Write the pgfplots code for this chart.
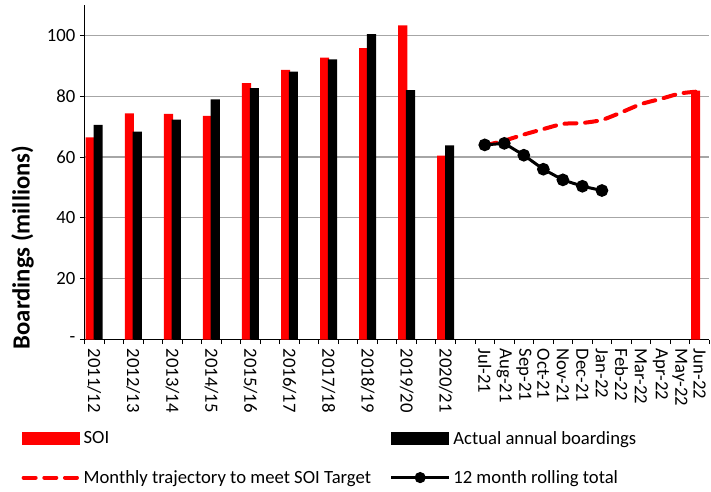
\documentclass[border=0pt]{standalone}
\usepackage{fontspec}
\setmainfont{Carlito}
\usepackage{pgfplots}
\pgfplotsset{compat=1.18}

\begin{document}
\begin{tikzpicture}
\begin{axis}[
    scale only axis,
    width=468.6pt, height=250.9pt,
    xmin=0, xmax=32,
    ymin=0, ymax=110,
    clip=false,
    axis lines=left,
    axis line style={-, line width=0.9pt, black},
    tick align=outside,
    major tick length=3.4pt,
    tick style={black, line width=0.75pt},
    xtick={0,...,32},
    x tick label as interval,
    xticklabels={2011/12,,2012/13,,2013/14,,2014/15,,2015/16,,2016/17,,2017/18,,2018/19,,2019/20,,2020/21,,
        Jul-21,Aug-21,Sep-21,Oct-21,Nov-21,Dec-21,Jan-22,Feb-22,Mar-22,Apr-22,May-22,Jun-22},
    xticklabel style={rotate=-90, anchor=west},
    ytick={0,20,...,100},
    yticklabels={{-\hspace{0.4em}},20,40,60,80,100},
    tick label style={font=\fontsize{14}{16}\selectfont},
    ymajorgrids,
    major grid style={line width=0.9pt, gray!70},
    ylabel={Boardings (millions)},
    ylabel style={at={(axis description cs:-0.099,0.275)}, anchor=center,
        font=\fontsize{18.5}{22}\selectfont\bfseries},
    legend columns=2,
    legend cell align=left,
    legend style={at={(axis description cs:-0.101,-0.265)}, anchor=north west,
        draw=none, fill=none, inner sep=0pt, row sep=14pt,
        font=\fontsize{14}{16}\selectfont,
        /tikz/every even column/.append style={column sep=12pt}},
]

% SOI (annual target, plus Jun-22 target)
\addplot[ybar, bar width=0.47, bar shift=-0.2, fill=red, draw=none,
    legend image code/.code={\fill[red] (0pt,-4.9pt) rectangle (43.5pt,4.9pt);}]
    coordinates {(0.5,66.5) (2.5,74.4) (4.5,74.2) (6.5,73.5) (8.5,84.3)
        (10.5,88.7) (12.5,92.7) (14.5,95.8) (16.5,103.3) (18.5,60.5) (31.5,81.8)};
\addlegendentry{SOI}

% actual annual boardings
\addplot[ybar, bar width=0.47, bar shift=0.2, fill=black, draw=none,
    legend image code/.code={\fill[black] (0pt,-4.9pt) rectangle (43.5pt,4.9pt);}]
    coordinates {(0.5,70.6) (2.5,68.4) (4.5,72.3) (6.5,79.0) (8.5,82.7)
        (10.5,88.1) (12.5,92.1) (14.5,100.4) (16.5,82.0) (18.5,63.8)};
\addlegendentry{Actual annual boardings}

% monthly trajectory
\addplot[red, line width=3pt, dash pattern=on 9pt off 6.5pt, line cap=round,
    smooth, tension=0.4,
    legend image code/.code={\draw[red, line width=3pt, dash pattern=on 9pt off 6.5pt,
        line cap=round] (1.5pt,0pt) -- (43pt,0pt);}]
    coordinates {(20.5,63.8) (21.5,65.4) (22.5,67.4) (23.5,69.2) (24.5,70.9)
        (25.5,71.2) (26.5,72.2) (27.5,74.7) (28.5,77.4) (29.5,79.1) (30.5,80.9) (31.5,81.6)};
\addlegendentry{Monthly trajectory to meet SOI Target}

% 12 month rolling total
\addplot[black, line width=2.25pt, mark=*, mark size=3.6pt, mark options={solid},
    legend image code/.code={\draw[black, line width=2.25pt] (0pt,0pt) -- (43.5pt,0pt);
        \fill[black] (21.75pt,0pt) circle (3pt);}]
    coordinates {(20.5,64.0) (21.5,64.5) (22.5,60.6) (23.5,56.0)
        (24.5,52.5) (25.5,50.4) (26.5,49.0)};
\addlegendentry{12 month rolling total}

\path (axis description cs:-0.1352,-0.4529) rectangle (axis description cs:1.0027,1.0149);
\end{axis}
\end{tikzpicture}
\end{document}
